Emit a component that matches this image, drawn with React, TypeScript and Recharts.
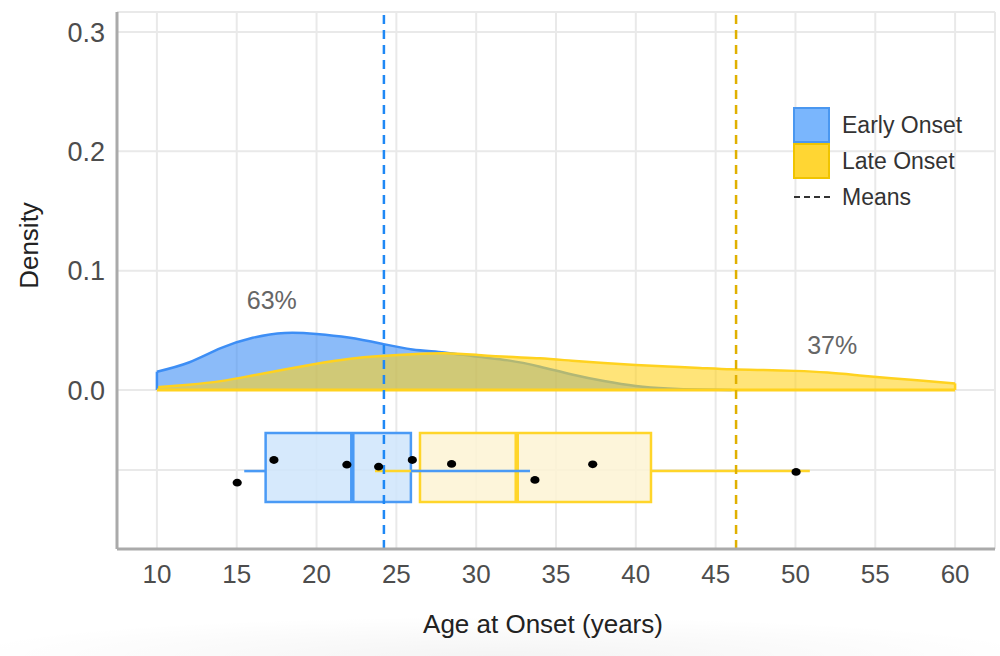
import React from "react";
import {
  ComposedChart, Area, Scatter, XAxis, YAxis, CartesianGrid,
  ReferenceLine, ReferenceArea, ReferenceDot,
} from "recharts";

// density curves
const ageGrid = [10, 12, 14, 16, 18, 20, 22, 24, 26, 28, 30, 32, 34, 36, 38, 40, 42, 44, 46, 48, 50, 52, 54, 56, 58, 60];
const earlyDensity = [0.0153, 0.023, 0.035, 0.0437, 0.0478, 0.047, 0.044, 0.039, 0.034, 0.0315, 0.028, 0.0248, 0.0195, 0.013, 0.0075, 0.0033, 0.0012, 0.0003, 0, null, null, null, null, null, null, null];
const lateDensity = [0.0023, 0.0044, 0.0074, 0.0122, 0.0172, 0.022, 0.026, 0.0285, 0.03, 0.0308, 0.0295, 0.0278, 0.0265, 0.0245, 0.0226, 0.021, 0.0197, 0.0185, 0.0173, 0.0167, 0.016, 0.0146, 0.0122, 0.0098, 0.0077, 0.0055];

// boxplot stats: [early, late]
const groups = ["Early Onset", "Late Onset"];
const whiskerLow = [15.47, 23.66];
const q1 = [16.81, 26.48];
const median = [22.24, 32.54];
const q3 = [25.91, 40.95];
const whiskerHigh = [33.37, 50.9];
const groupMeans = [24.22, 46.28];

// jittered raw points
const onsetAges = [15.03, 17.33, 21.9, 23.89, 26.0, 28.46, 33.68, 37.3, 50.04];
const jitterY = [-0.0777, -0.0587, -0.0626, -0.0643, -0.0587, -0.062, -0.0754, -0.0623, -0.0687];

const xTicks = [10, 15, 20, 25, 30, 35, 40, 45, 50, 55, 60];
const yTicks = [-0.067, 0, 0.1, 0.2, 0.3];

const shares = [
  { label: "63%", x: 17.2, y: 0.0754 },
  { label: "37%", x: 52.3, y: 0.0377 },
];

const densityTable = ageGrid.map((x, i) => ({ x, early: earlyDensity[i], late: lateDensity[i] }));
const points = onsetAges.map((x, i) => ({ x, y: jitterY[i] }));
const lastIdx = ageGrid.length - 1;

const BOX_TOP = -0.036;
const BOX_BOTTOM = -0.094;
const BOX_MID = -0.068;

const BLUE = "#3d8ef5";
const YELLOW = "#ffd21f";
const colors = [
  { stroke: "#4a9af5", fill: "#cfe5fb", mean: "#1e88f5" },
  { stroke: "#ffd52a", fill: "#fdf3d3", mean: "#e0b000" },
];
const FONT = "'Liberation Sans', Arial, sans-serif";

function Dot(props: any) {
  return <ellipse cx={props.cx} cy={props.cy} rx={4.6} ry={3.9} fill="#000" />;
}

function renderBox(g: number) {
  const c = colors[g];
  return [
    <ReferenceLine key={`wl${g}`} segment={[{ x: whiskerLow[g], y: BOX_MID }, { x: q1[g], y: BOX_MID }]} stroke={c.stroke} strokeWidth={2.5} />,
    <ReferenceLine key={`wh${g}`} segment={[{ x: q3[g], y: BOX_MID }, { x: whiskerHigh[g], y: BOX_MID }]} stroke={c.stroke} strokeWidth={2.5} />,
    <ReferenceArea key={`b${g}`} x1={q1[g]} x2={q3[g]} y1={BOX_BOTTOM} y2={BOX_TOP} fill={c.fill} fillOpacity={0.85} stroke={c.stroke} strokeWidth={2.5} />,
    <ReferenceLine key={`m${g}`} segment={[{ x: median[g], y: BOX_BOTTOM }, { x: median[g], y: BOX_TOP }]} stroke={c.stroke} strokeWidth={4.5} />,
  ];
}

export default function App() {
  return (
    <div style={{ position: "absolute", left: 0, top: 0, width: 1000, height: 656, background: "#fff", fontFamily: FONT, overflow: "hidden" }}>
      <ComposedChart width={1000} height={656} data={densityTable} margin={{ top: 12, right: 5, bottom: 0, left: 0 }}>
        <CartesianGrid stroke="#e9e9e9" strokeWidth={2} />
        <XAxis
          type="number"
          dataKey="x"
          domain={[7.5, 62.5]}
          ticks={xTicks}
          allowDataOverflow
          height={107}
          tickLine={false}
          axisLine={{ stroke: "#aaaaaa", strokeWidth: 3 }}
          tick={{ fill: "#4d4d4d", fontSize: 26, fontFamily: FONT }}
          tickMargin={10}
          label={{ value: "Age at Onset (years)", position: "insideTop", offset: 66, dx: -13, fill: "#222", fontSize: 26, fontFamily: FONT }}
        />
        <YAxis
          type="number"
          domain={[-0.1333, 0.3168]}
          ticks={yTicks}
          allowDataOverflow
          width={117}
          tickLine={false}
          axisLine={{ stroke: "#aaaaaa", strokeWidth: 3 }}
          tick={{ fill: "#4d4d4d", fontSize: 27, fontFamily: FONT }}
          tickFormatter={(v: number) => (v < 0 ? "" : v.toFixed(1))}
          tickMargin={6}
          label={{
            content: ({ viewBox }: any) => {
              const cx = viewBox.x + 29;
              const cy = viewBox.y + viewBox.height / 2 - 35;
              return (
                <text x={cx} y={cy} transform={`rotate(-90 ${cx} ${cy})`} textAnchor="middle"
                  dominantBaseline="central" fill="#222" fontSize={26} fontFamily={FONT}>
                  Density
                </text>
              );
            },
          }}
        />
        <Area dataKey="early" type="natural" baseValue={0} stroke={BLUE} strokeWidth={2.5} fill={BLUE} fillOpacity={0.6} isAnimationActive={false} />
        <Area dataKey="late" type="natural" baseValue={0} stroke={YELLOW} strokeWidth={2.5} fill={YELLOW} fillOpacity={0.6} isAnimationActive={false} />
        {/* outline edges of the density polygons */}
        <ReferenceLine segment={[{ x: ageGrid[0], y: 0 }, { x: ageGrid[0], y: earlyDensity[0] as number }]} stroke={BLUE} strokeWidth={2.5} />
        <ReferenceLine segment={[{ x: ageGrid[0], y: 0 }, { x: ageGrid[lastIdx], y: 0 }]} stroke={YELLOW} strokeWidth={3} />
        <ReferenceLine segment={[{ x: ageGrid[lastIdx], y: 0 }, { x: ageGrid[lastIdx], y: lateDensity[lastIdx] }]} stroke={YELLOW} strokeWidth={2.5} />
        {renderBox(1)}
        {renderBox(0)}
        {groupMeans.map((m, g) => (
          <ReferenceLine key={`mean${g}`} x={m} stroke={colors[g].mean} strokeWidth={2.5} strokeDasharray="9 6" />
        ))}
        {shares.map((s) => (
          <ReferenceDot key={s.label} x={s.x} y={s.y} r={0} fill="none" stroke="none"
            label={{ value: s.label, position: "center", fill: "#666", fontSize: 25, fontFamily: FONT }} />
        ))}
        <Scatter data={points} dataKey="y" shape={<Dot />} isAnimationActive={false} />
      </ComposedChart>

      <div style={{ position: "absolute", left: 793, top: 107, fontSize: 23, color: "#333" }}>
        {groups.map((g, i) => (
          <div key={g} style={{ display: "flex", alignItems: "center", height: 36 }}>
            <div style={{
              width: 37, height: 36, boxSizing: "border-box",
              background: i === 0 ? "#7ab6fd" : "#ffd633",
              border: `2px solid ${i === 0 ? "#4a97f0" : "#f0c400"}`,
            }} />
            <span style={{ marginLeft: 12 }}>{g}</span>
          </div>
        ))}
        <div style={{ display: "flex", alignItems: "center", height: 36 }}>
          <div style={{ width: 36, marginLeft: 1, borderTop: "2px dashed #333" }} />
          <span style={{ marginLeft: 12 }}>Means</span>
        </div>
      </div>
      <div style={{
        position: "absolute", left: 0, right: 0, bottom: 0, height: 40,
        background: "radial-gradient(ellipse 55% 100% at 50% 100%, rgba(0,0,0,0.045), rgba(0,0,0,0) 100%)",
      }} />
    </div>
  );
}
